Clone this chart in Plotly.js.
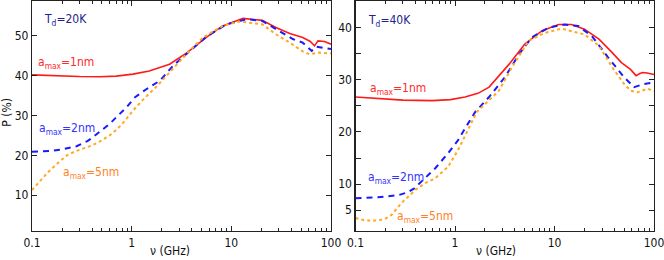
<!DOCTYPE html>
<html><head><meta charset="utf-8">
<script src="https://cdn.plot.ly/plotly-3.0.1.min.js"></script>
<style>body{margin:0;padding:0;background:#fff}#chart{width:664px;height:260px}</style>
</head><body><div id="chart"></div>
<script>
// ---- Data (T_d = 20 K, left panel) ----
const nu20_1 = [0.1, 0.15, 0.2, 0.3, 0.48, 0.7, 1.03, 1.5, 2.4, 3.6, 5.6, 8.2, 13.1, 20.4, 28, 38.6, 52, 62, 68.4, 74, 86, 100];
const p20_1  = [40.2, 40.0, 39.9, 39.8, 39.75, 39.9, 40.4, 41.2, 42.9, 45.8, 49.6, 52.5, 54.4, 53.9, 52.1, 50.6, 49.6, 48.6, 47.5, 48.75, 48.6, 47.9];
const nu20_2 = [0.1, 0.15, 0.2, 0.235, 0.28, 0.315, 0.36, 0.4, 0.48, 0.6, 0.73, 0.9, 1.08, 1.4, 1.92, 2.6, 3.85, 5.6, 8.9, 14.3, 20.4, 28, 41.4, 52, 64, 71, 85, 100];
const p20_2  = [20.9, 21.1, 21.5, 21.9, 22.3, 22.9, 23.6, 24.4, 26, 27.9, 30, 32.25, 34.6, 36.6, 38.75, 42.5, 46.25, 49.75, 52.9, 54.2, 53.75, 51.7, 49.2, 48.3, 46.25, 47.3, 46.9, 46.7];
const nu20_5 = [0.1, 0.12, 0.145, 0.18, 0.224, 0.27, 0.325, 0.4, 0.48, 0.6, 0.71, 0.85, 1.03, 1.3, 1.78, 2.6, 3.8, 5.2, 8.2, 12, 20.4, 28, 38.6, 52, 60.5, 76, 100];
const p20_5  = [11.3, 13.5, 15.8, 18.0, 20, 21, 21.7, 22.5, 23.5, 25, 26.5, 28.6, 31.25, 34.0, 37.3, 41.7, 46.25, 49.6, 52.5, 53.6, 52.9, 50.4, 48.3, 46.1, 45.4, 45.8, 45.6];

// ---- Data (T_d = 40 K, right panel) ----
const nu40_1 = [0.1, 0.185, 0.3, 0.59, 0.9, 1.26, 1.7, 2.2, 3.5, 5.0, 7.5, 11, 14.8, 20, 28, 38, 47, 58, 66, 72, 77, 85, 100];
const p40_1  = [26.7, 26.3, 26.1, 26.0, 26.2, 26.7, 27.4, 28.6, 33, 36.8, 39.4, 40.6, 40.6, 39.7, 37.8, 35.2, 33.3, 32.0, 30.8, 31.2, 31.4, 31.3, 31.0];
const nu40_2 = [0.1, 0.168, 0.27, 0.33, 0.39, 0.5, 0.63, 0.85, 1.07, 1.35, 1.59, 2.2, 3.17, 4.4, 5.9, 8.7, 12.6, 17.3, 23.7, 34.5, 50, 63, 79, 100];
const p40_2  = [7.3, 7.5, 7.9, 8.4, 9.2, 11.1, 13.0, 15.9, 18.4, 21.6, 23.8, 26.7, 30.5, 34.9, 38.1, 40, 40.6, 40.3, 38.4, 34.3, 30.5, 28.6, 29.2, 29.5];
const nu40_5 = [0.1, 0.124, 0.168, 0.2, 0.23, 0.29, 0.4, 0.5, 0.63, 0.85, 1.07, 1.35, 1.65, 2.76, 3.73, 5.5, 8, 11.8, 20, 28, 38, 50, 58.5, 68, 86, 100];
const p40_5  = [3.5, 3.05, 3.05, 3.4, 4.1, 6.4, 8.9, 10.2, 11.1, 13.3, 16.5, 20.3, 23.8, 27.9, 32.4, 37.5, 39, 39.8, 38.7, 36.5, 32.4, 29.2, 27.9, 27.6, 28.3, 27.8];

// ---- Tick labels ----
const xTickVals = [0.1, 1, 10, 100];
const xTickText = ['0.1', '1', '10', '100'];
const yTickVals20 = [10, 20, 30, 40, 50];
const yTickText20 = ['10', '20', '30', '40', '50'];
const yTickVals40 = [5, 10, 15, 20, 25, 30, 35, 40];
const yTickText40 = ['5', '10', '', '20', '', '30', '', '40'];

const labels20 = ['T<sub>d</sub>=20K', 'a<sub>max</sub>=1nm', 'a<sub>max</sub>=2nm', 'a<sub>max</sub>=5nm'];
const labels40 = ['T<sub>d</sub>=40K', 'a<sub>max</sub>=1nm', 'a<sub>max</sub>=2nm', 'a<sub>max</sub>=5nm'];

const FONT = "'DejaVu Sans Condensed', 'DejaVu Sans', sans-serif";
const RED = '#ff1a1a', BLUE = '#1a1aff', ORANGE = '#ffa820';

function tr(x, y, color, dash, w, xa, ya) {
  return {x: x, y: y, type: 'scatter', mode: 'lines', xaxis: xa, yaxis: ya,
          line: {color: color, dash: dash, width: w}, hoverinfo: 'skip'};
}
const data = [
  tr(nu20_1, p20_1, RED, 'solid', 1.6, 'x', 'y'),
  tr(nu20_2, p20_2, BLUE, '6px,5px', 2, 'x', 'y'),
  tr(nu20_5, p20_5, ORANGE, 'dot', 2, 'x', 'y'),
  tr(nu40_1, p40_1, RED, 'solid', 1.6, 'x2', 'y2'),
  tr(nu40_2, p40_2, BLUE, '6px,5px', 2, 'x2', 'y2'),
  tr(nu40_5, p40_5, ORANGE, 'dot', 2, 'x2', 'y2')
];

function xax(domain, anchor) {
  return {type: 'log', domain: domain, anchor: anchor, range: [-1, 2],
    tickvals: xTickVals, ticktext: xTickText, ticks: 'inside', ticklen: 5, tickwidth: 1,
    tickcolor: '#222', linecolor: '#222', linewidth: 1.2, mirror: 'ticks', showline: true,
    showgrid: false, zeroline: false, ticklabeloverflow: 'allow',
    tickfont: {family: FONT, size: 12, color: '#111'},
    minor: {tickvals: [0.2,0.3,0.4,0.5,0.6,0.7,0.8,0.9,2,3,4,5,6,7,8,9,20,30,40,50,60,70,80,90],
            ticks: 'inside', ticklen: 3, tickcolor: '#222', showgrid: false}};
}
function yax(domain, anchor, range, tv, tt) {
  return {domain: domain, anchor: anchor, range: range, tickvals: tv, ticktext: tt,
    ticks: 'inside', ticklen: 5, tickcolor: '#222', linecolor: '#222', linewidth: 1.2,
    mirror: 'ticks', showline: true, showgrid: false, zeroline: false,
    tickfont: {family: FONT, size: 12, color: '#111'}};
}

const ann = [];
function lab(text, x, y, color) {
  ann.push({text: text, x: x, y: y, xref: 'paper', yref: 'paper', xanchor: 'left', yanchor: 'middle',
            showarrow: false, font: {family: FONT, size: 12, color: color}});
}
const labColors = ['#22228c', '#ff2a2a', '#3333ff', '#ff7f27'];
const pos20 = [[0.063, 0.927], [0.054, 0.7615], [0.055, 0.504], [0.092, 0.3346]];
const pos40 = [[0.551, 0.923], [0.554, 0.6615], [0.551, 0.315], [0.595, 0.165]];
labels20.forEach((t, i) => lab(t, pos20[i][0], pos20[i][1], labColors[i]));
labels40.forEach((t, i) => lab(t, pos40[i][0], pos40[i][1], labColors[i]));
ann.push({text: 'ν (GHz)', x: 0.256, y: 0.035, xref: 'paper', yref: 'paper', xanchor: 'center', yanchor: 'middle',
          showarrow: false, font: {family: FONT, size: 12, color: '#111'}});
ann.push({text: 'ν (GHz)', x: 0.747, y: 0.035, xref: 'paper', yref: 'paper', xanchor: 'center', yanchor: 'middle',
          showarrow: false, font: {family: FONT, size: 12, color: '#111'}});
ann.push({text: 'P (%)', x: 0.011, y: 0.57, xref: 'paper', yref: 'paper', xanchor: 'center', yanchor: 'middle',
          textangle: -90, showarrow: false, font: {family: FONT, size: 12, color: '#111'}});

const layout = {
  width: 664, height: 260, margin: {l: 0, r: 0, t: 1, b: 0},
  paper_bgcolor: '#fff', plot_bgcolor: '#fff', showlegend: false,
  xaxis: xax([0.0482, 0.4985], 'y'),
  yaxis: yax([0.1115, 1], 'x', [1, 58.75], yTickVals20, yTickText20),
  xaxis2: xax([0.5354, 0.985], 'y2'),
  yaxis2: yax([0.1115, 1], 'x2', [1, 45.1], yTickVals40, yTickText40),
  annotations: ann
};
Plotly.newPlot('chart', data, layout, {staticPlot: true, displayModeBar: false});
</script></body></html>
